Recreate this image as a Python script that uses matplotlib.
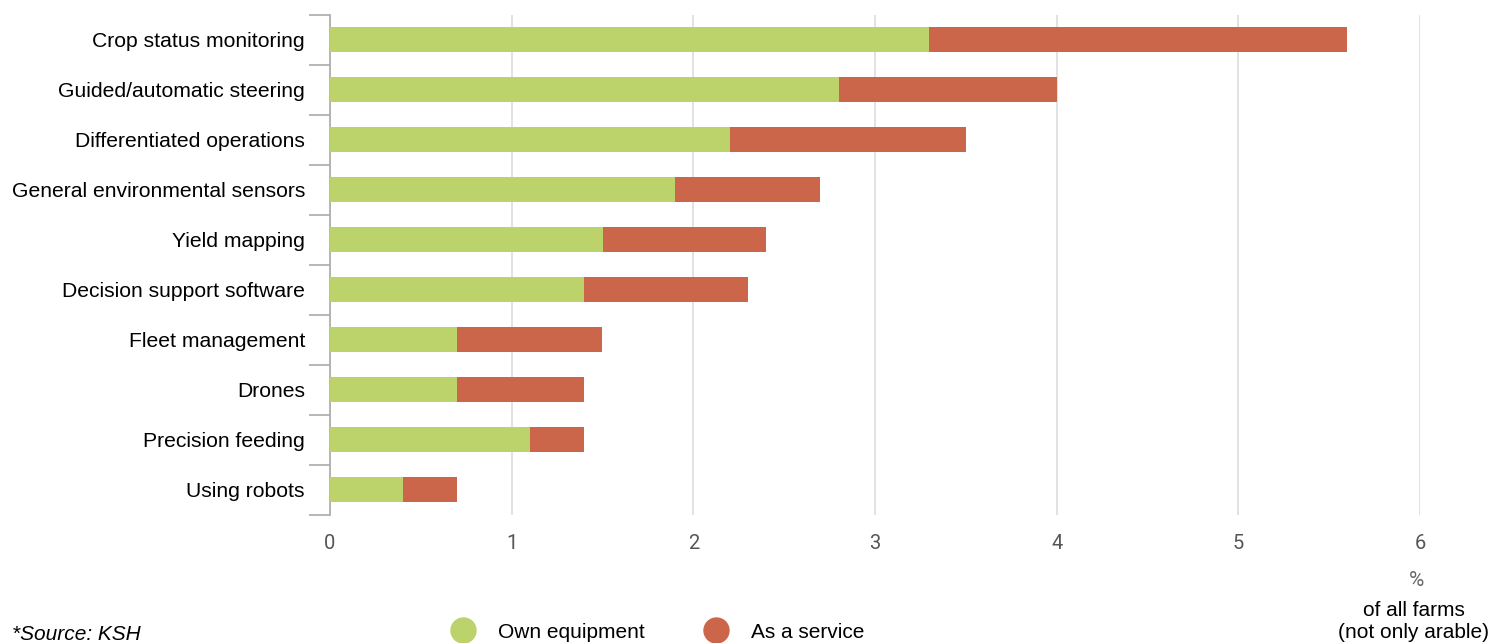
import numpy as np
import matplotlib.pyplot as plt
from matplotlib.lines import Line2D

# data
categories = ["Crop status monitoring", "Guided/automatic steering", "Differentiated operations",
              "General environmental sensors", "Yield mapping", "Decision support software",
              "Fleet management", "Drones", "Precision feeding", "Using robots"]
own_equipment = [3.3, 2.8, 2.2, 1.9, 1.5, 1.4, 0.7, 0.7, 1.1, 0.4]
as_service = [2.3, 1.2, 1.3, 0.8, 0.9, 0.9, 0.8, 0.7, 0.3, 0.3]
xticks = [0, 1, 2, 3, 4, 5, 6]

green = "#bcd26b"
red = "#cc664b"

fig = plt.figure(figsize=(14.99, 6.43), dpi=100)
ax = fig.add_axes([330 / 1499, 1 - 515 / 643, 1090 / 1499, 500 / 643])

y = np.arange(len(categories))
ax.barh(y, own_equipment, height=0.5, color=green, zorder=3)
ax.barh(y, as_service, left=own_equipment, height=0.5, color=red, zorder=3)

ax.set_xlim(0, 6)
ax.set_ylim(len(categories) - 0.5, -0.5)
ax.set_xticks(xticks)
ax.set_xticklabels([str(t) for t in xticks], fontsize=14.5, color="#555555", family="Roboto")
ax.tick_params(axis="x", length=0, pad=14)
ax.grid(axis="x", color="#dddddd", linewidth=1.2, zorder=0)

ax.set_yticks(y)
ax.set_yticklabels(categories, fontsize=15.2, family="Liberation Sans")
ax.tick_params(axis="y", length=0, pad=18)
ax.set_yticks(np.arange(len(categories) + 1) - 0.5, minor=True)
ax.tick_params(axis="y", which="minor", length=15, color="#aaaaaa", width=1.2)

for s in ["top", "right", "bottom"]:
    ax.spines[s].set_visible(False)
ax.spines["left"].set_color("#aaaaaa")
ax.spines["left"].set_linewidth(1.2)

# axis unit note
fig.text(1416 / 1499, 1 - 580 / 643, "%", ha="center", va="center", fontsize=15,
         color="#666666", family="Roboto")
fig.text(1414 / 1499, 1 - 622 / 643, "of all farms\n(not only arable)", ha="center", va="center",
         fontsize=15, family="Liberation Sans", linespacing=1.2)

# source
fig.text(12 / 1499, 1 - 634 / 643, "*Source: KSH", ha="left", va="center", fontsize=15,
         style="italic", family="Liberation Sans")

# legend
handles = [Line2D([], [], marker="o", linestyle="", markersize=18, color=green),
           Line2D([], [], marker="o", linestyle="", markersize=18, color=red)]
fig.legend(handles, ["Own equipment", "As a service"], loc="center left",
           bbox_to_anchor=(442 / 1499, 1 - 632 / 643), ncol=2, frameon=False,
           prop={"family": "Liberation Sans", "size": 15}, handletextpad=1.2,
           columnspacing=2.9, handlelength=1.0, borderpad=0)

plt.savefig("out.png", dpi=100)
